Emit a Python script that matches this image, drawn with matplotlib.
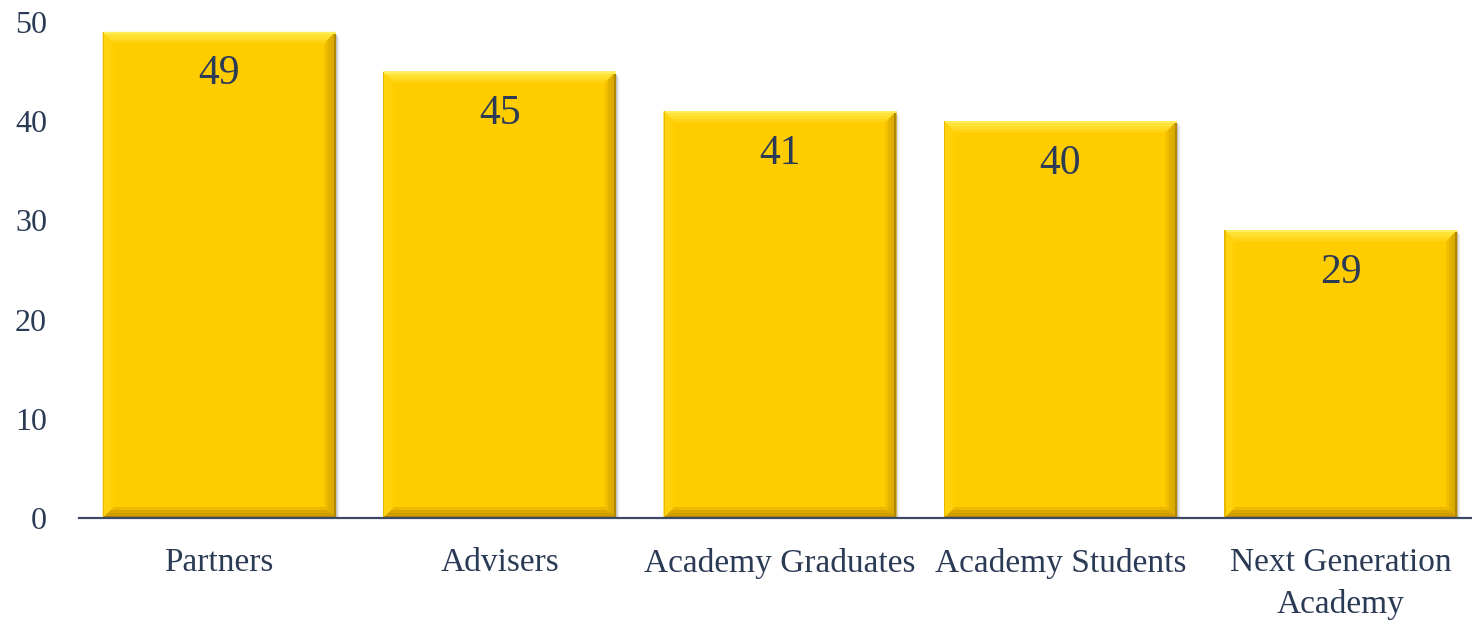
import matplotlib
matplotlib.use("Agg")
import matplotlib.pyplot as plt
from matplotlib.patches import Polygon, Rectangle

categories = ["Partners", "Advisers", "Academy Graduates", "Academy Students", "Next Generation\nAcademy"]
values = [49, 45, 41, 40, 29]
yticks = [0, 10, 20, 30, 40, 50]

navy = "#2b3a55"
gold = "#ffcc00"

plt.rcParams["font.family"] = ["Liberation Serif", "DejaVu Serif"]

fig = plt.figure(figsize=(14.72, 6.24), dpi=100)
W, H = 1472, 624
# axes spans x 79..1481 px, y (axis) 518 px up to value 50 at 22 px
left, right = 79, 1481
bottom, top = 518, 22
ax = fig.add_axes([left / W, (H - bottom) / H, (right - left) / W, (bottom - top) / H])
ax.set_xlim(-0.5, len(categories) - 0.5)
ax.set_ylim(0, 50)

bw = 0.83
bars = ax.bar(range(len(categories)), values, width=bw, color=gold, zorder=3, linewidth=0)

# pixel -> data scale factors
px_x = (len(categories)) / (right - left)
px_y = 50 / (bottom - top)

for b in bars:
    x0, y0 = b.get_x(), b.get_y()
    w, h = b.get_width(), b.get_height()
    x1, y1 = x0 + w, y0 + h
    # soft drop shadow to the right
    for k, a in enumerate([0.16, 0.10, 0.06, 0.03]):
        ax.add_patch(Rectangle((x0 + (1 + k) * px_x, y0), w, h - (2 + k) * px_y,
                               facecolor="#444444", alpha=a, linewidth=0, zorder=2))
    # bevel faces, stepped for a soft gradient
    steps = [(11, 0.4), (8, 0.65), (5, 1.0)]
    faces = {"top": "#ffe236", "left": "#ffd40f", "right": "#dcaa00", "bottom": "#d09e00"}
    for d, alpha in steps:
        dx, dy = d * px_x, d * px_y
        ax.add_patch(Polygon([(x0, y1), (x1, y1), (x1 - dx, y1 - dy), (x0 + dx, y1 - dy)],
                             closed=True, facecolor=faces["top"], alpha=alpha, linewidth=0, zorder=4))
        ax.add_patch(Polygon([(x0, y0), (x0, y1), (x0 + dx, y1 - dy), (x0 + dx, y0 + dy)],
                             closed=True, facecolor=faces["left"], alpha=alpha, linewidth=0, zorder=4))
        ax.add_patch(Polygon([(x1, y0), (x1, y1), (x1 - dx, y1 - dy), (x1 - dx, y0 + dy)],
                             closed=True, facecolor=faces["right"], alpha=alpha, linewidth=0, zorder=4))
        ax.add_patch(Polygon([(x0, y0), (x1, y0), (x1 - dx, y0 + dy), (x0 + dx, y0 + dy)],
                             closed=True, facecolor=faces["bottom"], alpha=alpha, linewidth=0, zorder=4))
    # thin edges
    ax.add_patch(Rectangle((x1 - 2 * px_x, y0), 2 * px_x, h, facecolor="#b08800",
                           linewidth=0, zorder=5))
    ax.add_patch(Rectangle((x0, y0), w, 2 * px_y, facecolor="#b08800", linewidth=0, zorder=5))
    ax.add_patch(Rectangle((x0, y1 - 2 * px_y), w, 2 * px_y, facecolor="#ffee5a",
                           linewidth=0, zorder=5))
    ax.add_patch(Rectangle((x0, y0), 1.2 * px_x, h, facecolor="#e8b800", linewidth=0, zorder=5))

for b, v in zip(bars, values):
    ax.annotate(str(v), (b.get_x() + b.get_width() / 2, v), xytext=(0, -23),
                textcoords="offset pixels", ha="center", va="top",
                fontsize=30, color=navy, zorder=6)

ax.set_xticks(range(len(categories)))
ax.set_xticklabels(categories, fontsize=24, color=navy, linespacing=1.45)
ax.set_yticks(yticks)
ax.set_yticklabels([str(t) for t in yticks], fontsize=23, color=navy)
ax.tick_params(axis="both", length=0)
ax.tick_params(axis="x", pad=21.5)
ax.tick_params(axis="y", pad=23)

for s in ["top", "right", "left"]:
    ax.spines[s].set_visible(False)
ax.spines["bottom"].set_color("#3d4a66")
ax.spines["bottom"].set_linewidth(1.6)
ax.spines["bottom"].set_zorder(7)

fig.savefig("out.png", dpi=100)
